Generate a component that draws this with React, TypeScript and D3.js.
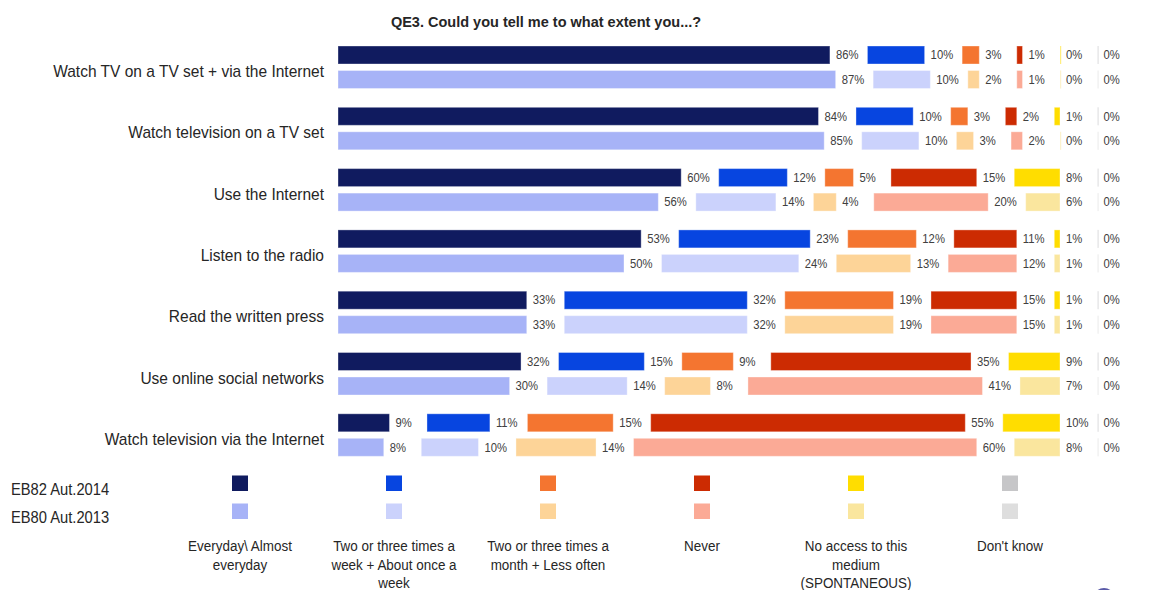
import React from "react";
import * as d3 from "d3";

const title = "QE3. Could you tell me to what extent you...?";
const categories = [
  "Watch TV on a TV set + via the Internet",
  "Watch television on a TV set",
  "Use the Internet",
  "Listen to the radio",
  "Read the written press",
  "Use online social networks",
  "Watch television via the Internet",
];
const seriesNames = ["EB82 Aut.2014", "EB80 Aut.2013"];
const answerLabels = [
  ["Everyday\\ Almost", "everyday"],
  ["Two or three times a", "week + About once a", "week"],
  ["Two or three times a", "month + Less often"],
  ["Never"],
  ["No access to this", "medium", "(SPONTANEOUS)"],
  ["Don't know"],
];
// values[category] = [answer0..answer5]
const eb82 = [
  [86, 10, 3, 1, 0, 0],
  [84, 10, 3, 2, 1, 0],
  [60, 12, 5, 15, 8, 0],
  [53, 23, 12, 11, 1, 0],
  [33, 32, 19, 15, 1, 0],
  [32, 15, 9, 35, 9, 0],
  [9, 11, 15, 55, 10, 0],
];
const eb80 = [
  [87, 10, 2, 1, 0, 0],
  [85, 10, 3, 2, 0, 0],
  [56, 14, 4, 20, 6, 0],
  [50, 24, 13, 12, 1, 0],
  [33, 32, 19, 15, 1, 0],
  [30, 14, 8, 41, 7, 0],
  [8, 10, 14, 60, 8, 0],
];
const darkColors = ["#101b5f", "#0745e0", "#f47530", "#cc2b02", "#ffdd00", "#c6c6c8"];
const lightColors = ["#a7b3f7", "#cbd2fc", "#fdd498", "#fbaa96", "#fae69e", "#dedede"];

const X0 = 338;
const GAP = 37.5;
const BAR_H = 18;

export default function App() {
  const x = d3.scaleLinear().domain([0, 100]).range([0, 572]);
  const y = d3.scaleLinear().domain([0, categories.length - 1]).range([46, 413.8]);
  const legendX = d3.scaleLinear().domain([0, 5]).range([240, 1010]);

  const renderRow = (vals: number[], top: number, colors: string[], key: string) => {
    let cum = 0;
    return vals.map((v, i) => {
      const start = X0 + x(cum) + i * GAP;
      cum += v;
      const w = x(v);
      const isZero = v === 0;
      const lx = start + (isZero ? 0 : w) + 6;
      const ly = top + BAR_H / 2 + 4.2;
      return (
        <g key={key + i}>
          <rect
            x={start}
            y={top}
            width={isZero ? 1.2 : w}
            height={BAR_H}
            fill={colors[i]}
            opacity={isZero ? 0.5 : 1}
            stroke={isZero ? "none" : "#ffffff"}
            strokeOpacity={0.35}
            strokeWidth={1}
          />
          <text
            transform={`translate(${lx},${ly}) scale(0.94,1)`}
            fontSize={12}
            fill="#404040"
          >
            {v + "%"}
          </text>
        </g>
      );
    });
  };

  return (
    <svg
      width={1157}
      height={590}
      style={{ position: "absolute", left: 0, top: 0, background: "#fff" }}
      fontFamily="Liberation Sans, Arial, sans-serif"
    >
      <rect width={1157} height={590} fill="#fff" />
      <text x={546} y={27} textAnchor="middle" fontSize={14.5} fontWeight="bold" fill="#262626">
        {title}
      </text>
      {categories.map((c, ci) => {
        const top = y(ci);
        return (
          <g key={c}>
            <text
              transform={`translate(324,${top + 31}) scale(0.97,1)`}
              textAnchor="end"
              fontSize={16}
              fill="#262626"
            >
              {c}
            </text>
            {renderRow(eb82[ci], top, darkColors, "d" + ci)}
            {renderRow(eb80[ci], top + 24.5, lightColors, "l" + ci)}
          </g>
        );
      })}
      <text transform="translate(11,495) scale(0.92,1)" fontSize={16} fill="#262626">{seriesNames[0]}</text>
      <text transform="translate(11,523) scale(0.92,1)" fontSize={16} fill="#262626">{seriesNames[1]}</text>
      {answerLabels.map((lines, i) => (
        <g key={"lg" + i}>
          <rect x={legendX(i) - 8} y={475.5} width={16} height={15.5} fill={darkColors[i]} />
          <rect x={legendX(i) - 8} y={503.5} width={16} height={15.5} fill={lightColors[i]} />
          {lines.map((ln, li) => (
            <text
              key={li}
              transform={`translate(${legendX(i)},${551 + li * 18.5}) scale(0.96,1)`}
              textAnchor="middle"
              fontSize={14}
              fill="#262626"
            >
              {ln}
            </text>
          ))}
        </g>
      ))}
      <circle cx={1104} cy={599} r={10} fill="none" stroke="#5a5aa8" strokeWidth={2} />
    </svg>
  );
}
